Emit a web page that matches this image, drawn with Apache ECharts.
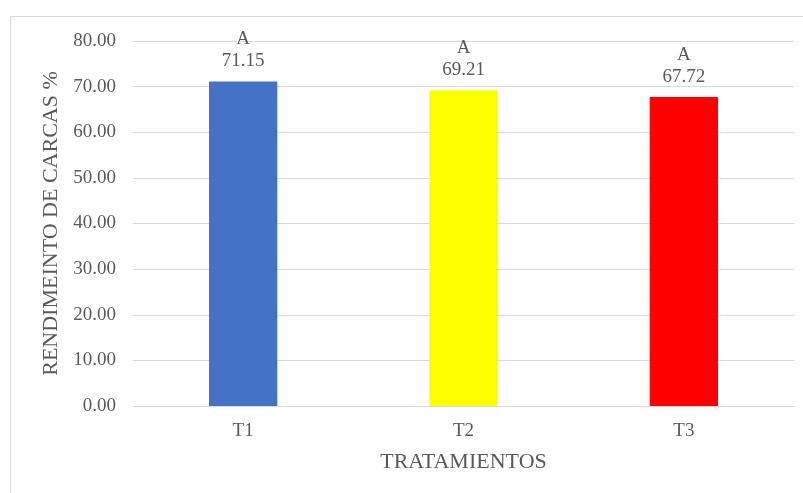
<!DOCTYPE html>
<html>
<head>
<meta charset="utf-8">
<style>
  html, body { margin: 0; padding: 0; background: #fff; }
  #chart { width: 803px; height: 493px; }
</style>
<script src="https://cdn.jsdelivr.net/npm/echarts@6/dist/echarts.min.js"></script>
</head>
<body>
<div id="chart"></div>
<script>
// Treatments and carcass yield (%)
const categories = ['T1', 'T2', 'T3'];
const yieldValues = [71.15, 69.21, 67.72];
const groupLetters = ['A', 'A', 'A'];
const barColors = ['#4472C4', '#FFFF00', '#FF0000'];

const textColor = '#595959';
const gridColor = '#d9d9d9';
const serif = '"Liberation Serif", "Times New Roman", serif';

const chart = echarts.init(document.getElementById('chart'), null, { renderer: 'canvas' });

chart.setOption({
  backgroundColor: '#ffffff',
  animation: false,
  textStyle: { fontFamily: serif, color: textColor },
  grid: { left: 133, right: 9, top: 41, bottom: 87, containLabel: false },
  graphic: [{
    type: 'polyline',
    shape: { points: [[10.5, 493], [10.5, 16.5], [803, 16.5]] },
    style: { stroke: gridColor, lineWidth: 1, fill: null },
    silent: true
  }],
  xAxis: {
    type: 'category',
    data: categories,
    name: 'TRATAMIENTOS',
    nameLocation: 'middle',
    nameGap: 45,
    nameTextStyle: { fontFamily: serif, fontSize: 22, color: textColor },
    axisLine: { show: true, lineStyle: { color: gridColor, width: 1 } },
    axisTick: { show: false },
    axisLabel: { fontFamily: serif, fontSize: 19, color: textColor, margin: 16 }
  },
  yAxis: {
    type: 'value',
    min: 0,
    max: 80,
    interval: 10,
    name: 'RENDIMEINTO DE CARCAS %',
    nameLocation: 'middle',
    nameGap: 70,
    nameTextStyle: { fontFamily: serif, fontSize: 22, color: textColor },
    axisLine: { show: false },
    axisTick: { show: false },
    splitLine: { show: true, lineStyle: { color: gridColor, width: 1 } },
    axisLabel: {
      fontFamily: serif, fontSize: 19, color: textColor, margin: 17,
      formatter: v => v.toFixed(2)
    }
  },
  series: [{
    type: 'bar',
    barWidth: '31%',
    data: yieldValues.map((v, i) => ({
      value: v,
      itemStyle: { color: barColors[i] },
      label: {
        show: true,
        position: 'top',
        distance: 9,
        formatter: '{a|' + groupLetters[i] + '}\n{b|' + v.toFixed(2) + '}',
        rich: {
          a: { fontFamily: serif, fontSize: 19, color: textColor, lineHeight: 22, align: 'center' },
          b: { fontFamily: serif, fontSize: 19, color: textColor, lineHeight: 22, align: 'center' }
        }
      }
    }))
  }]
});
</script>
</body>
</html>
